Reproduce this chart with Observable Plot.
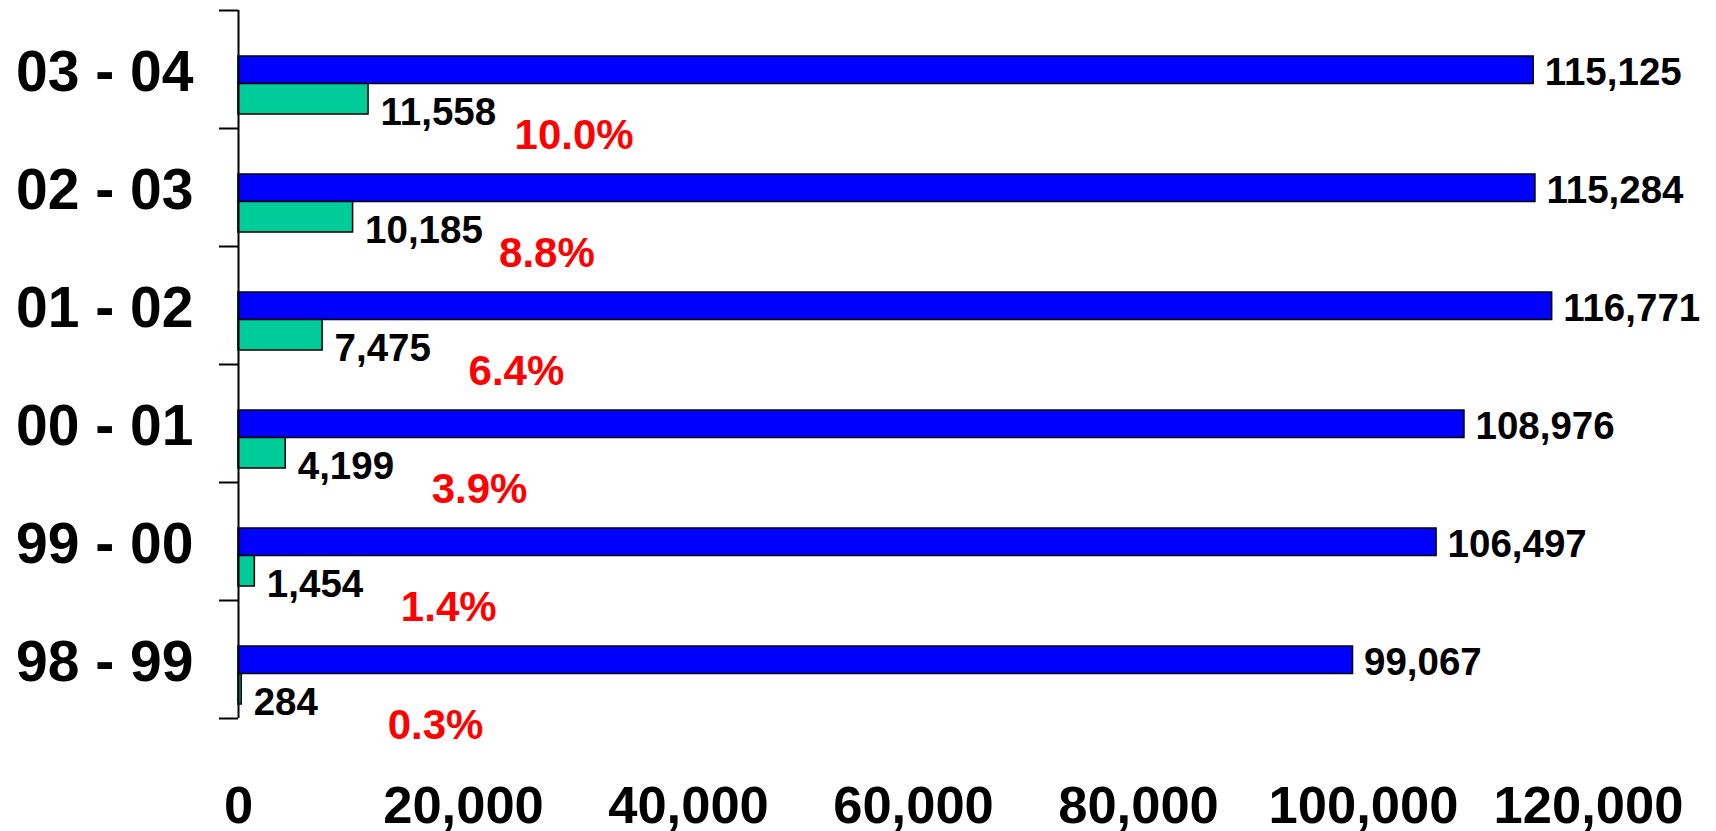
<!DOCTYPE html>
<html>
<head>
<meta charset="utf-8">
<script src="https://cdn.jsdelivr.net/npm/d3@7"></script>
<script src="https://cdn.jsdelivr.net/npm/@observablehq/plot@0.6"></script>
<style>
  html, body { margin: 0; padding: 0; background: #fff; }
  #chart svg { display: block; font-family: "Liberation Sans", Arial, sans-serif; }
</style>
</head>
<body>
<div id="chart"></div>
<script>
// Categories listed bottom to top
const categories = ["98 - 99", "99 - 00", "00 - 01", "01 - 02", "02 - 03", "03 - 04"];
const totals     = [99067, 106497, 108976, 116771, 115284, 115125];
const dropouts   = [284, 1454, 4199, 7475, 10185, 11558];
const pctLabels  = ["0.3%", "1.4%", "3.9%", "6.4%", "8.8%", "10.0%"];
const xTicks     = [0, 20000, 40000, 60000, 80000, 100000, 120000];

const rows = categories.map((c, i) => ({
  cat: c, total: totals[i], dropout: dropouts[i], pct: pctLabels[i]
}));

const W = 1716, H = 831;
const mTop = 10, mBottom = 113, mLeft = 238, mRight = 128;
const bw = (H - mTop - mBottom) / categories.length;
const fmt = d3.format(",");
const yDomain = [...categories].reverse();

const chart = Plot.plot({
  width: W,
  height: H,
  marginTop: mTop,
  marginBottom: mBottom,
  marginLeft: mLeft,
  marginRight: mRight,
  style: { fontFamily: '"Liberation Sans", Arial, sans-serif', background: "#fff", overflow: "visible" },
  x: { domain: [0, 120000] },
  y: { domain: yDomain, padding: 0, round: false },
  marks: [
    // total bars (blue)
    Plot.barX(rows, {
      y: "cat", x: "total", fill: "#0000FF", stroke: "#000", strokeWidth: 1.5,
      insetTop: 46, insetBottom: bw - 73.5
    }),
    // dropout bars (green)
    Plot.barX(rows, {
      y: "cat", x: "dropout", fill: "#00CC99", stroke: "#000", strokeWidth: 1.5,
      insetTop: 73.5, insetBottom: bw - 104
    }),
    // vertical axis line
    Plot.ruleX([0], { stroke: "#000", strokeWidth: 2 }),
    // category boundary ticks
    Plot.ruleY(rows, { y: "cat", dy: -bw / 2, x1: 0, x2: 0, insetLeft: -19, stroke: "#000", strokeWidth: 2 }),
    Plot.ruleY(rows.slice(0, 1), { y: "cat", dy: bw / 2, x1: 0, x2: 0, insetLeft: -19, stroke: "#000", strokeWidth: 2 }),
    // value labels
    Plot.text(rows, {
      y: "cat", x: "total", text: d => fmt(d.total), textAnchor: "start",
      dx: 11, dy: 3, fontSize: 38.5, fontWeight: "bold", fill: "#000"
    }),
    Plot.text(rows, {
      y: "cat", x: "dropout", text: d => fmt(d.dropout), textAnchor: "start",
      dx: 12, dy: 43, fontSize: 38.5, fontWeight: "bold", fill: "#000"
    }),
    // percentage labels (red)
    Plot.text(rows, {
      y: "cat", x: "dropout", text: "pct", textAnchor: "start",
      dx: 146, dy: 66, fontSize: 42, fontWeight: "bold", fill: "#FF0000"
    }),
    // axes
    Plot.axisY({
      tickSize: 0, tickPadding: 45, fontSize: 57, fontWeight: "bold", dy: 3,
      label: null, fill: "#000"
    }),
    Plot.axisX({
      ticks: xTicks, tickSize: 0, tickPadding: 67, tickFormat: fmt,
      fontSize: 52.5, fontWeight: "bold", label: null, fill: "#000"
    })
  ]
});

document.getElementById("chart").appendChild(chart);
</script>
</body>
</html>
